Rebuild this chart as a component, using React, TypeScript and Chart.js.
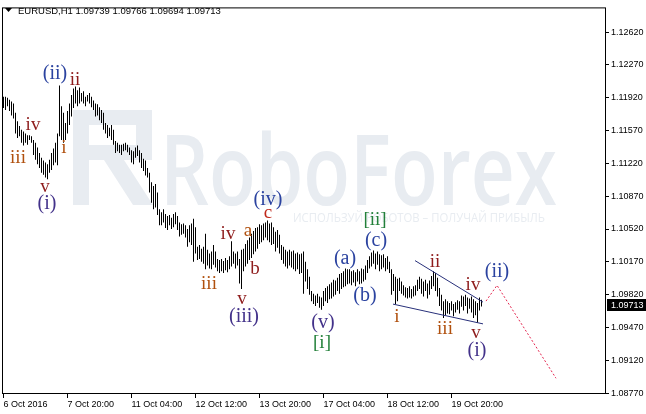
import React, { useEffect, useRef } from 'react';
import { Chart, registerables } from 'chart.js';

Chart.register(...registerables);

// ---- data (EURUSD H1, one value per hourly bar) ----
const highs = [
  1.1193, 1.1193, 1.1192, 1.1190, 1.1188, 1.1186, 1.1176, 1.1167, 1.1162, 1.1158,
  1.1156, 1.1154, 1.1152, 1.1152, 1.1151, 1.1147, 1.1144, 1.1139, 1.1133, 1.1128,
  1.1125, 1.1123, 1.1121, 1.1126, 1.1133, 1.1138, 1.1144, 1.1154, 1.1205, 1.1183,
  1.1176, 1.1165, 1.1178, 1.1186, 1.1195, 1.1202, 1.1204, 1.1200, 1.1203, 1.1197,
  1.1199, 1.1193, 1.1195, 1.1197, 1.1193, 1.1189, 1.1186, 1.1185, 1.1182, 1.1179,
  1.1176, 1.1165, 1.1163, 1.1160, 1.1163, 1.1158, 1.1146, 1.1144, 1.1142, 1.1142,
  1.1143, 1.1144, 1.1142, 1.1139, 1.1136, 1.1135, 1.1139, 1.1141, 1.1136, 1.1133,
  1.1127, 1.1125, 1.1117, 1.1112, 1.1102, 1.1098, 1.1100, 1.1091, 1.1073, 1.1070,
  1.1073, 1.1068, 1.1066, 1.1067, 1.1064, 1.1068, 1.1070, 1.1066, 1.1059, 1.1057,
  1.1058, 1.1056, 1.1052, 1.1056, 1.1058, 1.1063, 1.1054, 1.1033, 1.1035, 1.1031,
  1.1033, 1.1047, 1.1030, 1.1026, 1.1028, 1.1035, 1.1028, 1.1020, 1.1019, 1.1020,
  1.1018, 1.1021, 1.1019, 1.1023, 1.1039, 1.1028, 1.1026, 1.1028, 1.1020, 1.1030,
  1.1031, 1.1036, 1.1040, 1.1043, 1.1047, 1.1050, 1.1053, 1.1054, 1.1057, 1.1056,
  1.1058, 1.1059, 1.1061, 1.1058, 1.1059, 1.1054, 1.1049, 1.1051, 1.1046, 1.1035,
  1.1033, 1.1030, 1.1028, 1.1030, 1.1028, 1.1029, 1.1026, 1.1027, 1.1025, 1.1026,
  1.1028, 1.1017, 1.1009, 1.1001, 1.0986, 1.0983, 1.0981, 1.0983, 1.0980, 1.0979,
  1.0986, 1.0989, 1.0991, 1.0993, 1.0995, 1.0998, 1.0997, 1.1000, 1.1004, 1.1005,
  1.1007, 1.1010, 1.1009, 1.1009, 1.1007, 1.1008, 1.1006, 1.1009, 1.1007, 1.1010,
  1.1009, 1.1013, 1.1019, 1.1023, 1.1027, 1.1029, 1.1026, 1.1028, 1.1025, 1.1024,
  1.1025, 1.1021, 1.1023, 1.1017, 1.1009, 1.1004, 1.1001, 1.0999, 1.1000, 1.0996,
  1.0992, 1.0990, 1.0989, 1.0991, 1.0988, 1.0991, 1.0992, 1.0998, 1.1001, 1.0999,
  1.0996, 1.0998, 1.0994, 1.0997, 1.1002, 1.1007, 1.1005, 1.1000, 1.0989, 1.0982,
  1.0975, 1.0977, 1.0975, 1.0973, 1.0975, 1.0972, 1.0974, 1.0976, 1.0975, 1.0981,
  1.0980, 1.0982, 1.0979, 1.0978, 1.0980, 1.0977, 1.0975, 1.0973, 1.0979, 1.09766,
];

const lows = [
  1.1181, 1.1179, 1.1183, 1.1178, 1.1173, 1.1170, 1.1154, 1.1149, 1.1151, 1.1144,
  1.1141, 1.1144, 1.1142, 1.1147, 1.1144, 1.1131, 1.1126, 1.1121, 1.1117, 1.1112,
  1.1110, 1.1107, 1.1105, 1.1112, 1.1115, 1.1120, 1.1123, 1.1120, 1.1151, 1.1147,
  1.1144, 1.1147, 1.1154, 1.1163, 1.1172, 1.1181, 1.1186, 1.1183, 1.1186, 1.1188,
  1.1186, 1.1183, 1.1188, 1.1186, 1.1182, 1.1179, 1.1172, 1.1173, 1.1168, 1.1165,
  1.1158, 1.1154, 1.1149, 1.1151, 1.1147, 1.1142, 1.1133, 1.1135, 1.1133, 1.1131,
  1.1135, 1.1136, 1.1134, 1.1131, 1.1123, 1.1121, 1.1128, 1.1130, 1.1123, 1.1117,
  1.1114, 1.1109, 1.1107, 1.1091, 1.1080, 1.1073, 1.1075, 1.1067, 1.1056, 1.1056,
  1.1059, 1.1053, 1.1051, 1.1056, 1.1052, 1.1054, 1.1057, 1.1051, 1.1044, 1.1046,
  1.1047, 1.1043, 1.1033, 1.1038, 1.1035, 1.1017, 1.1026, 1.1019, 1.1020, 1.1017,
  1.1015, 1.1009, 1.1013, 1.1010, 1.1009, 1.1014, 1.1011, 1.1007, 1.1005, 1.1007,
  1.1005, 1.1008, 1.1006, 1.1009, 1.1012, 1.1015, 1.1010, 1.1013, 1.0994, 1.0988,
  1.1007, 1.1012, 1.1015, 1.1019, 1.1021, 1.1025, 1.1028, 1.1031, 1.1036, 1.1038,
  1.1040, 1.1043, 1.1040, 1.1038, 1.1035, 1.1036, 1.1028, 1.1032, 1.1026, 1.1019,
  1.1015, 1.1012, 1.1010, 1.1013, 1.1011, 1.1009, 1.1007, 1.1009, 1.1004, 1.1005,
  1.0983, 1.0996, 1.0988, 1.0982, 1.0975, 1.0972, 1.0970, 1.0973, 1.0968, 1.0966,
  1.0970, 1.0975, 1.0973, 1.0977, 1.0978, 1.0980, 1.0982, 1.0986, 1.0983, 1.0988,
  1.0990, 1.0991, 1.0993, 1.0994, 1.0992, 1.0995, 1.0991, 1.0996, 1.0993, 1.0994,
  1.0996, 1.0998, 1.1005, 1.1010, 1.1012, 1.1015, 1.1009, 1.1014, 1.1007, 1.1009,
  1.1011, 1.1007, 1.1009, 1.1005, 1.0982, 1.0986, 1.0972, 1.0975, 1.0986, 1.0983,
  1.0981, 1.0979, 1.0978, 1.0979, 1.0978, 1.0980, 1.0981, 1.0986, 1.0988, 1.0983,
  1.0980, 1.0986, 1.0978, 1.0982, 1.0988, 1.0991, 1.0986, 1.0980, 1.0970, 1.0965,
  1.0957, 1.0960, 1.0962, 1.0961, 1.0965, 1.0959, 1.0963, 1.0966, 1.0962, 1.0969,
  1.0965, 1.0970, 1.0962, 1.0967, 1.0963, 1.0957, 1.0960, 1.0952, 1.0965, 1.09694,
];

const timeTickBars = [0, 32, 64, 96, 128, 160, 192, 224];
const timeTickLabels = [
  '6 Oct 2016', '7 Oct 20:00', '11 Oct 04:00', '12 Oct 12:00',
  '13 Oct 20:00', '17 Oct 04:00', '18 Oct 12:00', '19 Oct 20:00',
];
const priceTicks = [
  1.0877, 1.0912, 1.0947, 1.0982, 1.1017, 1.1052, 1.1087, 1.1122, 1.1157, 1.1192, 1.1227, 1.1262,
];
const lastPrice = 1.09713;
const titleSymbol = 'EURUSD,H1';
const titleQuotes = ['1.09739', '1.09766', '1.09694', '1.09713'];

// Elliott wave labels
const waveText = ['(ii)', 'ii', 'iv', 'iii', 'i', 'v', '(i)', 'iii', 'iv', 'a', 'b', 'c', '(iv)', 'v', '(iii)',
  '(v)', '[i]', '(a)', '(b)', '[ii]', '(c)', 'i', 'ii', 'iii', 'iv', 'v', '(i)', '(ii)'];
const waveBar = [25.75, 35.75, 14.75, 7.25, 30.25, 20.75, 21.75, 102.75, 112.25, 122.25, 125.75, 132.25, 132.25, 119.25, 120.25,
  159.75, 159.25, 170.75, 180.75, 185.75, 186.25, 196.75, 215.75, 220.75, 234.75, 236.25, 236.75, 246.75];
const wavePrice = [1.1218, 1.1211, 1.1163, 1.1128, 1.1139, 1.1097, 1.10795, 1.0994, 1.1047, 1.1050, 1.1009, 1.1069, 1.1083, 1.0978, 1.0959,
  1.0952, 1.0931, 1.1020, 1.0981, 1.1062, 1.1040, 1.0958, 1.1017, 1.0945, 1.0992, 1.0941, 1.0922, 1.1007];
const waveKind = ['blue', 'maroon', 'maroon', 'orange', 'orange', 'maroon', 'purple', 'orange', 'maroon', 'orange', 'maroon', 'red', 'blue', 'maroon', 'purple',
  'purple', 'green', 'blue', 'blue', 'green', 'blue', 'orange', 'maroon', 'orange', 'maroon', 'maroon', 'purple', 'blue'];

// triangle lines and projected path
const upperLineBars = [205.75, 239.75];
const upperLinePrices = [1.10183, 1.0974];
const lowerLineBars = [194.75, 239.75];
const lowerLinePrices = [1.09719, 1.09508];
const projectionBars = [241.25, 246.75, 276.25];
const projectionPrices = [1.09751, 1.09919, 1.08928];

const COLORS: Record<string, string> = {
  blue: '#2b43a0',
  purple: '#43328a',
  maroon: '#8e1c1c',
  orange: '#b0500e',
  red: '#c0281a',
  green: '#23803a',
};

const toPoints = (xs: number[], ys: number[]) => xs.map((x, i) => ({ x, y: ys[i] }));

const watermarkPlugin = {
  id: 'watermark',
  beforeDatasetsDraw(chart: any) {
    const { ctx } = chart;
    ctx.save();
    ctx.fillStyle = '#e8ecf1';
    // logo block (stylised R)
    ctx.fillRect(73, 110, 16, 95);
    ctx.fillRect(73, 110, 79, 15);
    ctx.fillRect(136, 110, 16, 50);
    ctx.fillRect(89, 145, 63, 15);
    ctx.beginPath();
    ctx.moveTo(104, 160);
    ctx.lineTo(124, 160);
    ctx.lineTo(153, 205);
    ctx.lineTo(133, 205);
    ctx.closePath();
    ctx.fill();
    // word mark
    ctx.font = '600 98px "Open Sans", "Liberation Sans", sans-serif';
    ctx.textBaseline = 'alphabetic';
    ctx.textAlign = 'left';
    const word = 'RoboForex';
    const w = ctx.measureText(word).width;
    ctx.translate(160, 205);
    ctx.scale(397 / w, 1);
    ctx.fillText(word, 0, 0);
    ctx.restore();

    ctx.save();
    ctx.fillStyle = '#e8ecf1';
    ctx.font = '13px "Open Sans", "Liberation Sans", sans-serif';
    const sub = 'ИСПОЛЬЗУЙ РОБОТОВ – ПОЛУЧАЙ ПРИБЫЛЬ';
    const sw = ctx.measureText(sub).width;
    ctx.translate(293, 222);
    ctx.scale(252 / sw, 1);
    ctx.fillText(sub, 0, 0);
    ctx.restore();
  },
};

const labelsPlugin = {
  id: 'waveLabels',
  afterDatasetsDraw(chart: any) {
    const { ctx, scales } = chart;
    const xs = scales.x;
    const ys = scales.y;
    ctx.save();
    ctx.textAlign = 'center';
    ctx.textBaseline = 'alphabetic';
    waveText.forEach((t, k) => {
      const paren = t.startsWith('(');
      const size = paren ? 20 : 19;
      ctx.font = `${size}px "Liberation Serif", "Times New Roman", serif`;
      ctx.fillStyle = COLORS[waveKind[k]];
      const px = xs.getPixelForValue(waveBar[k]);
      const py = ys.getPixelForValue(wavePrice[k]);
      ctx.fillText(t, px, py + size * 0.27);
    });
    ctx.restore();
  },
};

const framePlugin = {
  id: 'frame',
  afterDraw(chart: any) {
    const { ctx, chartArea, scales } = chart;
    ctx.save();
    ctx.strokeStyle = '#000';
    ctx.lineWidth = 1;
    ctx.strokeRect(chartArea.left + 0.5, chartArea.top + 0.5, chartArea.right - chartArea.left - 1, chartArea.bottom - chartArea.top - 1);

    // current price box
    const py = Math.round(scales.y.getPixelForValue(lastPrice));
    ctx.fillStyle = '#000';
    ctx.fillRect(chartArea.right + 1, py - 6, 40, 12);
    ctx.fillStyle = '#fff';
    ctx.font = '9px "Liberation Sans", Arial, sans-serif';
    ctx.textBaseline = 'middle';
    ctx.textAlign = 'left';
    ctx.fillText(lastPrice.toFixed(5), chartArea.right + 5, py + 0.5);

    // title
    ctx.fillStyle = '#000';
    ctx.beginPath();
    ctx.moveTo(5, 8);
    ctx.lineTo(12, 8);
    ctx.lineTo(8.5, 12);
    ctx.closePath();
    ctx.fill();
    ctx.font = '9.5px "Liberation Sans", Arial, sans-serif';
    ctx.textBaseline = 'middle';
    ctx.fillText(`${titleSymbol} ${titleQuotes.join(' ')}`, 18, 11);
    ctx.restore();
  },
};

export default function App() {
  const canvasRef = useRef<HTMLCanvasElement | null>(null);

  useEffect(() => {
    const canvas = canvasRef.current;
    if (!canvas) return;
    const chart = new Chart(canvas, {
      type: 'bar',
      data: {
        datasets: [
          {
            type: 'bar',
            data: highs.map((h, i) => ({ x: i, y: [lows[i], h] })) as any,
            backgroundColor: '#000',
            borderWidth: 0,
            barThickness: 1,
            inflateAmount: 0,
            grouped: false,
            order: 2,
          } as any,
          {
            type: 'line',
            data: toPoints(upperLineBars, upperLinePrices),
            borderColor: '#28307a',
            borderWidth: 1,
            pointRadius: 0,
            tension: 0,
            fill: false,
            order: 1,
          },
          {
            type: 'line',
            data: toPoints(lowerLineBars, lowerLinePrices),
            borderColor: '#28307a',
            borderWidth: 1,
            pointRadius: 0,
            tension: 0,
            fill: false,
            order: 1,
          },
          {
            type: 'line',
            data: toPoints(projectionBars, projectionPrices),
            borderColor: '#e3264f',
            borderWidth: 1,
            borderDash: [2, 2],
            pointRadius: 0,
            tension: 0,
            fill: false,
            order: 1,
          },
        ],
      },
      options: {
        responsive: false,
        animation: false,
        events: [],
        layout: { padding: { left: 2, top: 3, right: 0, bottom: 0 } },
        plugins: { legend: { display: false }, tooltip: { enabled: false } },
        scales: {
          x: {
            type: 'linear',
            min: -0.75,
            max: 301.25,
            offset: false,
            border: { display: false },
            grid: { display: true, drawOnChartArea: false, drawTicks: true, tickLength: 4, color: '#000', offset: false },
            afterBuildTicks: (scale: any) => {
              scale.ticks = timeTickBars.map((v) => ({ value: v }));
            },
            afterFit: (scale: any) => {
              scale.height = 20;
            },
            ticks: {
              autoSkip: false,
              maxRotation: 0,
              minRotation: 0,
              align: 'start',
              padding: 1,
              color: '#000',
              font: { family: '"Liberation Sans", Arial, sans-serif', size: 9 },
              callback: (value: any) => {
                const k = timeTickBars.indexOf(Number(value));
                return k >= 0 ? timeTickLabels[k] : '';
              },
            },
          },
          y: {
            type: 'linear',
            position: 'right',
            min: 1.0876,
            max: 1.12884,
            border: { display: false },
            grid: { display: true, drawOnChartArea: false, drawTicks: true, tickLength: 3, color: '#000' },
            afterBuildTicks: (scale: any) => {
              scale.ticks = priceTicks.map((v) => ({ value: v }));
            },
            afterFit: (scale: any) => {
              scale.width = 40;
            },
            ticks: {
              autoSkip: false,
              padding: 2,
              color: '#000',
              font: { family: '"Liberation Sans", Arial, sans-serif', size: 9 },
              callback: (value: any) => Number(value).toFixed(5),
            },
          },
        },
      } as any,
      plugins: [watermarkPlugin, labelsPlugin, framePlugin],
    });
    return () => chart.destroy();
  }, []);

  return (
    <div style={{ position: 'absolute', left: 0, top: 0, width: 646, height: 414, background: '#fff' }}>
      <canvas ref={canvasRef} width={646} height={414} style={{ display: 'block' }} />
    </div>
  );
}
